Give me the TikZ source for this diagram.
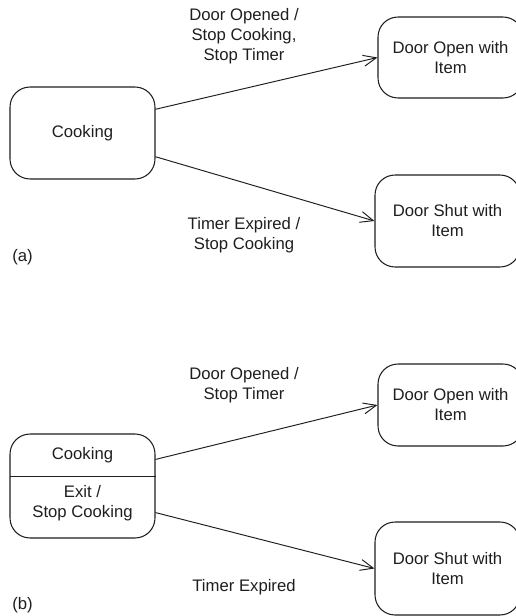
\documentclass[tikz,border=0pt]{standalone}
\usepackage{fontspec}
\setmainfont{Liberation Sans}
\usetikzlibrary{arrows.meta, positioning}
\definecolor{ink}{HTML}{1E1E1E}
\tikzset{st/.style={draw=ink, line width=0.6pt, rounded corners=0.4cm, align=center, inner sep=0pt, text=ink, minimum width=2.9cm},
  tr/.style={draw=ink, line width=0.55pt, -{Straight Barb[length=2.6mm, width=2.2mm]}},
  lb/.style={align=center, text=ink, inner sep=0pt}}

\begin{document}
\begin{tikzpicture}[x=0.02cm, y=-0.02cm, font=\fontsize{9.5}{11.4}\selectfont]
  \useasboundingbox (0,0) rectangle (515,616);
  % (a)
  \node[st, minimum height=1.84cm] (cooka) at (82.5,133) {Cooking};
  \node[st, minimum height=1.62cm] (opena) at (450.5,57.5) {Door Open with\\Item};
  \node[st, minimum height=1.84cm] (shuta) at (447.5,221) {Door Shut with\\Item};
  \draw[tr] (cooka.18) -- (opena.west);
  \draw[tr] (cooka.-18) -- (shuta.west);
  \node[lb] (ta1) at (244,36) {Door Opened /\\Stop Cooking,\\Stop Timer};
  \node[lb] (ta2) at (244,235.5) {Timer Expired /\\Stop Cooking};
  \node[lb, anchor=west] (capa) at (12,257) {(a)};
  % (b)
  \node[st, minimum height=2.08cm] (cookb) at (82.5,486) {};
  \node[lb] (cbname) at (82.5,455) {Cooking};
  \node[lb] (cbexit) at (82.5,503) {Exit /\\Stop Cooking};
  \coordinate (divl) at (10,476);
  \draw[ink, line width=0.5pt] (divl) -- (divl -| cookb.east);
  \node[st, minimum height=1.64cm] (openb) at (450.5,405) {Door Open with\\Item};
  \node[st, minimum height=1.86cm] (shutb) at (447.5,568.5) {Door Shut with\\Item};
  \draw[tr] (cookb.20) -- (openb.west);
  \draw[tr] (cookb.-20) -- (shutb.west);
  \node[lb] (tb1) at (244,385) {Door Opened /\\Stop Timer};
  \node[lb] (tb2) at (244,587) {Timer Expired};
  \node[lb, anchor=west] (capb) at (12,605) {(b)};
\end{tikzpicture}
\end{document}
